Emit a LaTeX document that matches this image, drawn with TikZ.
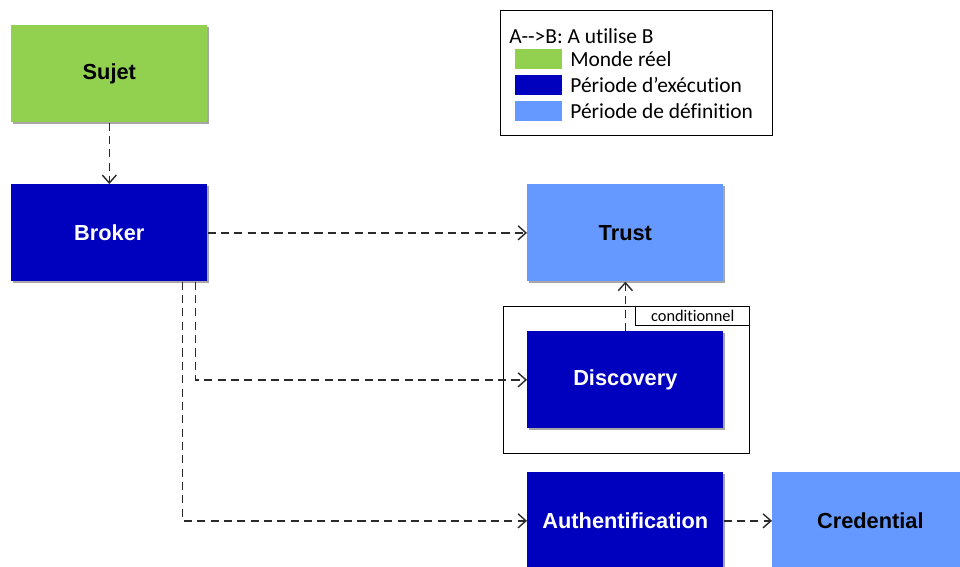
\documentclass[tikz,border=0pt]{standalone}
\usepackage{fontspec}
\setmainfont{Carlito}
\newfontfamily\legfont{Carlito}[Ligatures=NoCommon]
\newfontfamily\boxfont{Liberation Sans}
\usetikzlibrary{arrows.meta,shadows}
\definecolor{realgreen}{HTML}{92D050}
\definecolor{execblue}{HTML}{0000BF}
\definecolor{defblue}{HTML}{6699FF}
\definecolor{conncol}{HTML}{2A2A2A}
\tikzset{
  box/.style={rectangle, anchor=north west, minimum width=3.92cm, minimum height=1.94cm,
    inner sep=0pt, font=\boxfont\bfseries\fontsize{12.4pt}{14pt}\selectfont,
    drop shadow={shadow xshift=1.2pt, shadow yshift=-1.2pt, opacity=0.35, fill=black}},
  realbox/.style={box, fill=realgreen, text=black},
  execbox/.style={box, fill=execblue, text=white},
  defbox/.style={box, fill=defblue, text=black},
  conn/.style={draw=conncol, line width=0.85pt, dash pattern=on 4.6pt off 3pt,
    -{Straight Barb[length=4.5pt, width=8pt, line width=0.8pt]}},
  frame/.style={draw=black, line width=0.85pt, rectangle, inner sep=0pt, anchor=north west},
  legtext/.style={anchor=west, inner sep=0pt, font=\legfont\fontsize{12.2pt}{14pt}\selectfont},
  swatch/.style={rectangle, inner sep=0pt, anchor=north west, minimum width=0.94cm, minimum height=0.4cm}
}
\begin{document}
\begin{tikzpicture}[x=0.02cm, y=-0.02cm]
\useasboundingbox (0,0) rectangle (960,567);
\clip (0,0) rectangle (960,567);
\fill[white] (0,0) rectangle (960,567);

% legend
\node[frame, minimum width=5.44cm, minimum height=2.5cm] (legend) at (500,10) {};
\node[legtext] (legtitle) at (509,36) {A-{}-{}>B: A utilise B};
\node[swatch, fill=realgreen] (sw1) at (515,49) {};
\node[swatch, fill=execblue] (sw2) at (515,75) {};
\node[swatch, fill=defblue] (sw3) at (515,101) {};
\node[legtext] (lg1) at (570,59) {Monde réel};
\node[legtext] (lg2) at (570,85) {Période d’exécution};
\node[legtext] (lg3) at (570,111) {Période de définition};

% group frame
\node[frame, minimum width=4.92cm, minimum height=2.94cm] (group) at (503,306) {};
\node[frame, anchor=north east, minimum width=2.28cm, minimum height=0.38cm,
  font=\legfont\fontsize{9.3pt}{11pt}\selectfont] (cond) at (group.north east) {conditionnel};

% boxes
\node[realbox] (sujet) at (11,25) {Sujet};
\node[execbox] (broker) at (11,184) {Broker};
\node[defbox] (trust) at (527,184) {Trust};
\node[execbox] (discovery) at (527,331) {Discovery};
\node[execbox] (auth) at (527,472) {Authentification};
\node[defbox] (cred) at (772,472) {Credential};

% connectors
\draw[conn] (sujet.south) -- (broker.north);
\draw[conn] (broker.east) -- (trust.west);
\draw[conn] ([xshift=-0.24cm]broker.south east) |- (discovery.west);
\draw[conn] ([xshift=-0.5cm]broker.south east) |- (auth.west);
\draw[conn] (discovery.north) -- (trust.south);
\draw[conn] (auth.east) -- (cred.west);
\end{tikzpicture}
\end{document}
